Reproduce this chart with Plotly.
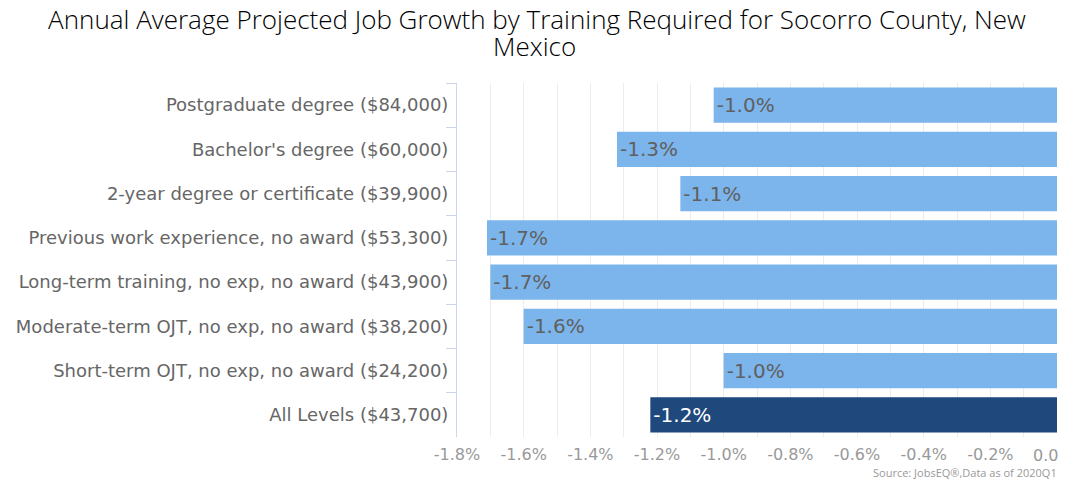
import plotly.graph_objects as go

categories = [
    "Postgraduate degree ($84,000)",
    "Bachelor's degree ($60,000)",
    "2-year degree or certificate ($39,900)",
    "Previous work experience, no award ($53,300)",
    "Long-term training, no exp, no award ($43,900)",
    "Moderate-term OJT, no exp, no award ($38,200)",
    "Short-term OJT, no exp, no award ($24,200)",
    "All Levels ($43,700)",
]
growth = [-1.03, -1.32, -1.13, -1.71, -1.70, -1.60, -1.00, -1.22]
highlight = "All Levels ($43,700)"

tick_vals = [-1.8, -1.6, -1.4, -1.2, -1.0, -0.8, -0.6, -0.4, -0.2, 0.0]
tick_text = ["-1.8%", "-1.6%", "-1.4%", "-1.2%", "-1.0%", "-0.8%", "-0.6%", "-0.4%", "-0.2%", "0.0"]

title_line1 = "Annual Average Projected Job Growth by Training Required for Socorro County, New"
title_line2 = "Mexico"
source_text = "Source: JobsEQ®,Data as of 2020Q1"

bar_colors = ["#1f497d" if c == highlight else "#7cb5ec" for c in categories]
text_colors = ["#ffffff" if c == highlight else "#606060" for c in categories]
labels = [f"{v:.1f}%" for v in growth]
# the last tick label is drawn justified to the edge (as in the original) via an annotation
axis_tick_labels = tick_text[:-1] + [""]

# page body has an 8px margin; figure coordinates are offset accordingly
OFF = 8
W, H = 1068 - OFF, 480 - OFF
ML, MR, MT, MB = 457 - OFF, 11, 83 - OFF, 43
plot_w = W - ML - MR
plot_h = H - MT - MB


def px_x(page_x):
    return (page_x - OFF - ML) / plot_w


def px_y(page_y):
    return (H - (page_y - OFF) - MB) / plot_h


tick_font = dict(family="DejaVu Sans", size=16, color="#999999")

fig = go.Figure()
fig.add_trace(go.Bar(
    x=growth,
    y=categories,
    orientation="h",
    marker=dict(color=bar_colors, line=dict(width=0)),
    text=labels,
    textposition="inside",
    insidetextanchor="end",
    textfont=dict(family="DejaVu Sans", size=20, color=text_colors),
    hoverinfo="skip",
))

fig.update_layout(
    width=W,
    height=H,
    paper_bgcolor="white",
    plot_bgcolor="white",
    margin=dict(l=ML, r=MR, t=MT, b=MB, autoexpand=False),
    bargap=0.2,
    showlegend=False,
    title=dict(
        text=title_line1,
        x=(537 - OFF) / W,
        xanchor="center",
        y=1 - (20 - OFF) / H,
        yref="container",
        yanchor="middle",
        font=dict(family="Open Sans", size=26, color="#000000", weight=300),
    ),
    xaxis=dict(
        range=[-1.8, 0],
        tickvals=tick_vals,
        ticktext=axis_tick_labels,
        showgrid=True,
        gridcolor="#ececec",
        gridwidth=1,
        minor=dict(dtick=0.1, showgrid=True, gridcolor="#ececec", gridwidth=1),
        zeroline=False,
        showline=False,
        ticks="",
        tickfont=tick_font,
        ticklabelstandoff=6,
        automargin=False,
        fixedrange=True,
    ),
    yaxis=dict(
        autorange="reversed",
        showline=True,
        linecolor="#ccd6eb",
        linewidth=1,
        ticks="outside",
        tickson="boundaries",
        ticklen=10,
        tickcolor="#ccd6eb",
        showgrid=False,
        zeroline=False,
        tickfont=dict(family="DejaVu Sans", size=18, color="#666666"),
        ticklabelstandoff=4,
        automargin=False,
        fixedrange=True,
    ),
    annotations=[
        dict(
            text=title_line2,
            x=px_x(534),
            xref="paper",
            xanchor="center",
            y=px_y(46),
            yref="paper",
            yanchor="middle",
            showarrow=False,
            font=dict(family="Open Sans", size=26, color="#000000", weight=300),
        ),
        dict(
            text=tick_text[-1],
            x=tick_vals[-1],
            xref="x",
            xanchor="right",
            xshift=3,
            y=px_y(455),
            yref="paper",
            yanchor="middle",
            showarrow=False,
            font=tick_font,
        ),
        dict(
            text=source_text,
            x=px_x(1059),
            xref="paper",
            xanchor="right",
            y=px_y(472),
            yref="paper",
            yanchor="middle",
            showarrow=False,
            font=dict(family="Open Sans", size=11, color="#999999"),
        ),
    ],
)

fig.write_html("out.html")
